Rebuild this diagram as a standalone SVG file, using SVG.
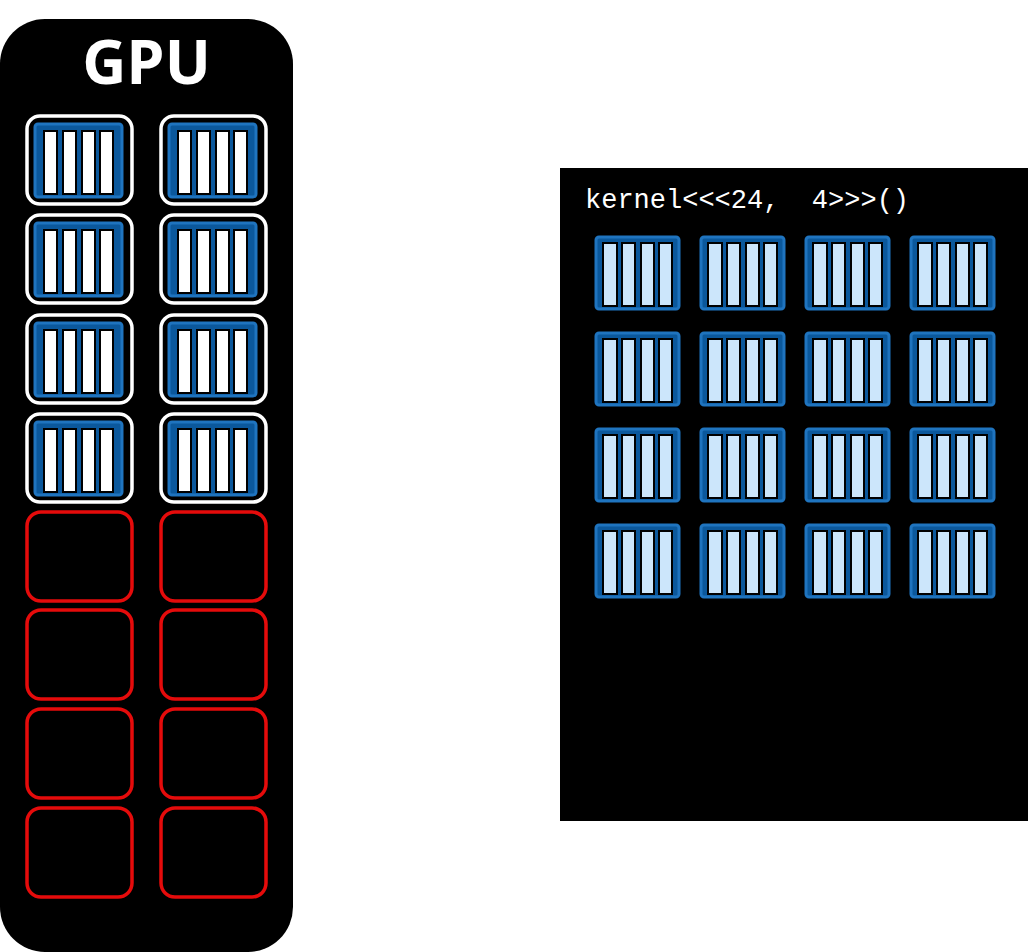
<svg xmlns="http://www.w3.org/2000/svg" xmlns:xlink="http://www.w3.org/1999/xlink" width="1028" height="952" viewBox="0 0 1028 952">
<style>
.sm{fill:#000;stroke:#fff;stroke-width:3.5}
.smr{fill:#000;stroke:#e50b0b;stroke-width:3.5}
.blk{fill:#0b589c;stroke:#1f74bf;stroke-width:3}
.barw{fill:#fff;stroke:#000;stroke-width:2}
.barl{fill:#cce6fb;stroke:#000;stroke-width:2}
.lbl{font-family:"Open Sans","DejaVu Sans",sans-serif;font-weight:bold;font-size:61px;fill:#fff}
.code{font-family:"Liberation Mono","Courier New",monospace;font-size:27px;fill:#fff}
</style>
<defs>
<g id="blockW">
<rect class="blk" x="0" y="0" width="87" height="73" rx="3"/>
<rect class="barw" x="9" y="7" width="13" height="63"/>
<rect class="barw" x="28" y="7" width="13" height="63"/>
<rect class="barw" x="47" y="7" width="13" height="63"/>
<rect class="barw" x="65" y="7" width="13" height="63"/>
</g>
<g id="blockL">
<rect class="blk" x="0" y="0" width="83" height="72" rx="3"/>
<rect class="barl" x="7" y="6" width="14" height="63"/>
<rect class="barl" x="26" y="6" width="13" height="63"/>
<rect class="barl" x="45" y="6" width="13" height="63"/>
<rect class="barl" x="63" y="6" width="13" height="63"/>
</g>
</defs>
<g id="gpu">
<rect x="0" y="19" width="293" height="933" rx="45" fill="#000"/>
<text class="lbl" x="146.5" y="84" text-anchor="middle">GPU</text>
</g>
<g id="sms">
<g id="sm1"><rect class="sm" x="27" y="116" width="105" height="88" rx="13"/><use xlink:href="#blockW" x="35" y="124"/></g>
<g id="sm2"><rect class="sm" x="161" y="116" width="105" height="88" rx="13"/><use xlink:href="#blockW" x="169" y="124"/></g>
<g id="sm3"><rect class="sm" x="27" y="215" width="105" height="88" rx="13"/><use xlink:href="#blockW" x="35" y="223"/></g>
<g id="sm4"><rect class="sm" x="161" y="215" width="105" height="88" rx="13"/><use xlink:href="#blockW" x="169" y="223"/></g>
<g id="sm5"><rect class="sm" x="27" y="315" width="105" height="88" rx="13"/><use xlink:href="#blockW" x="35" y="323"/></g>
<g id="sm6"><rect class="sm" x="161" y="315" width="105" height="88" rx="13"/><use xlink:href="#blockW" x="169" y="323"/></g>
<g id="sm7"><rect class="sm" x="27" y="414" width="105" height="88" rx="13"/><use xlink:href="#blockW" x="35" y="422"/></g>
<g id="sm8"><rect class="sm" x="161" y="414" width="105" height="88" rx="13"/><use xlink:href="#blockW" x="169" y="422"/></g>
<g id="sm9"><rect class="smr" x="27" y="512" width="105" height="89" rx="14"/></g>
<g id="sm10"><rect class="smr" x="161" y="512" width="105" height="89" rx="14"/></g>
<g id="sm11"><rect class="smr" x="27" y="610" width="105" height="89" rx="14"/></g>
<g id="sm12"><rect class="smr" x="161" y="610" width="105" height="89" rx="14"/></g>
<g id="sm13"><rect class="smr" x="27" y="709" width="105" height="89" rx="14"/></g>
<g id="sm14"><rect class="smr" x="161" y="709" width="105" height="89" rx="14"/></g>
<g id="sm15"><rect class="smr" x="27" y="808" width="105" height="89" rx="14"/></g>
<g id="sm16"><rect class="smr" x="161" y="808" width="105" height="89" rx="14"/></g>
</g>
<g id="kernel">
<rect x="560" y="168" width="468" height="653" fill="#000"/>
<text class="code" x="585" y="208" xml:space="preserve">kernel&lt;&lt;&lt;24,  4&gt;&gt;&gt;()</text>
</g>
<g id="blocks">
<use xlink:href="#blockL" x="596" y="237"/>
<use xlink:href="#blockL" x="701" y="237"/>
<use xlink:href="#blockL" x="806" y="237"/>
<use xlink:href="#blockL" x="911" y="237"/>
<use xlink:href="#blockL" x="596" y="333"/>
<use xlink:href="#blockL" x="701" y="333"/>
<use xlink:href="#blockL" x="806" y="333"/>
<use xlink:href="#blockL" x="911" y="333"/>
<use xlink:href="#blockL" x="596" y="429"/>
<use xlink:href="#blockL" x="701" y="429"/>
<use xlink:href="#blockL" x="806" y="429"/>
<use xlink:href="#blockL" x="911" y="429"/>
<use xlink:href="#blockL" x="596" y="525"/>
<use xlink:href="#blockL" x="701" y="525"/>
<use xlink:href="#blockL" x="806" y="525"/>
<use xlink:href="#blockL" x="911" y="525"/>
</g>
<g id="connectors"/>
</svg>
